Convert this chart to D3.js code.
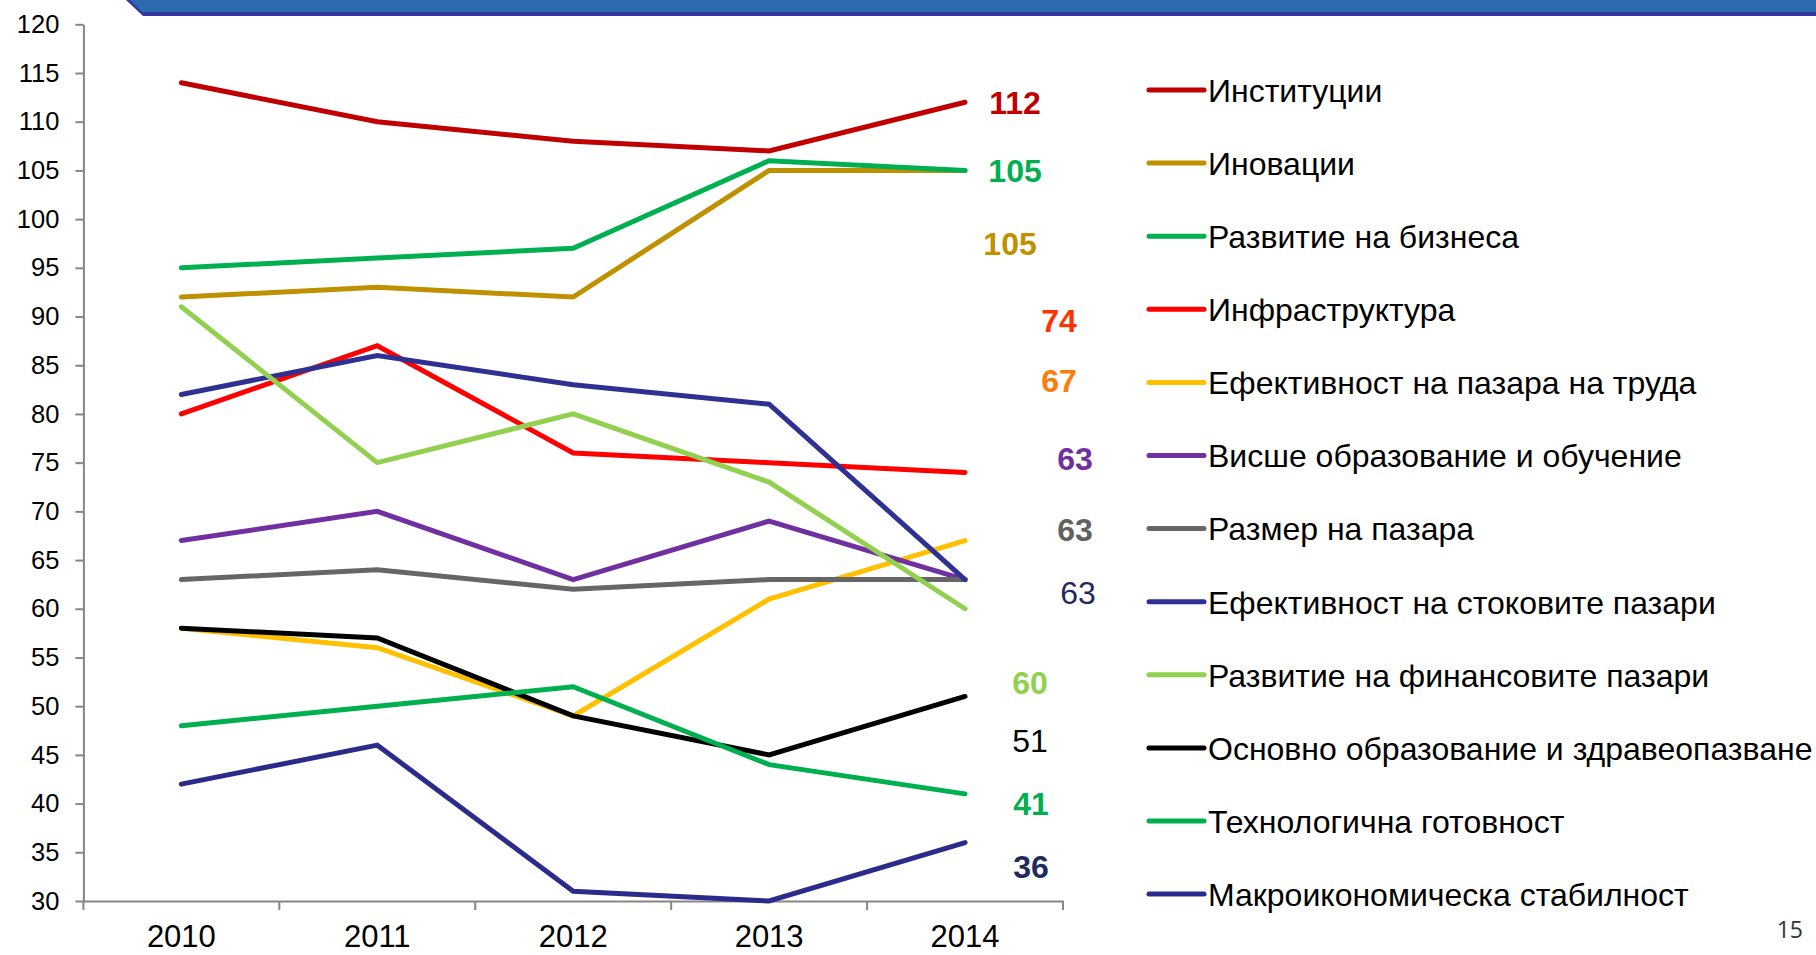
<!DOCTYPE html>
<html>
<head>
<meta charset="utf-8">
<script src="https://cdn.jsdelivr.net/npm/d3@7"></script>
<style>
  html, body { margin: 0; padding: 0; background: #fff; }
  svg { display: block; font-family: "Liberation Sans", Arial, sans-serif; }
</style>
</head>
<body>
<div id="container"></div>
<script>
const years = ["2010", "2011", "2012", "2013", "2014"];
const yTicks = d3.range(30, 121, 5);

const seriesNames = [
    "Институции",
    "Иновации",
    "Развитие на бизнеса",
    "Инфраструктура",
    "Ефективност на пазара на труда",
    "Висше образование и обучение",
    "Размер на пазара",
    "Ефективност на стоковите пазари",
    "Развитие на финансовите пазари",
    "Основно образование и здравеопазване",
    "Технологична готовност",
    "Макроикономическа стабилност"
];

const institutions = [114, 110, 108, 107, 112];
const innovation = [92, 93, 92, 105, 105];
const businessDev = [95, 96, 97, 106, 105];
const infrastructure = [80, 87, 76, 75, 74];
const labourMarket = [58, 56, 49, 61, 67];
const higherEducation = [67, 70, 63, 69, 63];
const marketSize = [63, 64, 62, 63, 63];
const goodsMarket = [82, 86, 83, 81, 63];
const financialMarket = [91, 75, 80, 73, 60];
const primaryEducation = [58, 57, 49, 45, 51];
const techReadiness = [48, 50, 52, 44, 41];
const macroStability = [42, 46, 31, 30, 36];

const seriesValues = [
    institutions, innovation, businessDev, infrastructure, labourMarket, higherEducation,
    marketSize, goodsMarket, financialMarket, primaryEducation, techReadiness, macroStability
];

const seriesColors = [
    "#C00000", "#BF9000", "#00B050", "#FF0000", "#FFC000", "#7030A0",
    "#666666", "#2E3192", "#92D050", "#000000", "#00B050", "#2B2B8C"
];

// rank labels printed to the right of the 2014 points
const labelText = ["112", "105", "105", "74", "67", "63", "63", "63", "60", "51", "41", "36"];
const labelColors = ["#C00000", "#00B050", "#BF9000", "#FF3300", "#FA7D0C", "#7030A0",
    "#616161", "#1F2A5C", "#92D050", "#000000", "#00B050", "#1F2A5C"];
const labelBold = [true, true, true, true, true, true, true, false, true, false, true, true];
// annotation layout: vertical anchor in value units, horizontal offset from the 2014 point
const labelAt = [112, 105, 97.5, 89.6, 83.4, 75.4, 68.1, 61.7, 52.4, 46.5, 40.0, 33.5];
const labelDx = [50, 50, 45, 94, 94, 110, 110, 113, 65, 65, 66, 66];

const W = 1816, H = 955;
const PLOT = { left: 83.4, right: 1063, top: 24.3, bottom: 901 };
const AXIS_COLOR = "#868686";
const LEGEND = { x1: 1149, x2: 1204, textX: 1208, top: 90, step: 73.1 };

const svg = d3.select("#container").append("svg")
    .attr("width", W).attr("height", H)
    .attr("viewBox", [0, 0, W, H]);

// slide header band
svg.append("polygon")
    .attr("points", "126,0 1816,0 1816,16 143,16")
    .attr("fill", "#3535A0");
svg.append("polygon")
    .attr("points", "130,0 1816,0 1816,12 142,12")
    .attr("fill", "#2E6AAE");

const x = d3.scaleBand().domain(years).range([PLOT.left, PLOT.right]);
const xc = d => x(d) + x.bandwidth() / 2;
const y = d3.scaleLinear().domain([30, 120]).range([PLOT.bottom, PLOT.top]);

// y axis
const yAxis = svg.append("g")
    .attr("transform", `translate(${PLOT.left},0)`)
    .call(d3.axisLeft(y).tickValues(yTicks).tickSize(8).tickSizeOuter(0).tickPadding(16));
yAxis.select(".domain").attr("stroke", AXIS_COLOR).attr("stroke-width", 2);
yAxis.selectAll(".tick line").attr("stroke", AXIS_COLOR).attr("stroke-width", 2);
yAxis.selectAll(".tick text")
    .attr("font-size", 25.5).attr("fill", "#000")
    .attr("font-family", "Liberation Sans, Arial, sans-serif");

// x axis
const xAxis = svg.append("g")
    .attr("transform", `translate(0,${PLOT.bottom})`)
    .call(d3.axisBottom(x).tickSize(0).tickSizeOuter(0));
xAxis.select(".domain").attr("stroke", AXIS_COLOR).attr("stroke-width", 2);
xAxis.selectAll(".tick text")
    .attr("y", 46).attr("dy", 0)
    .attr("font-size", 31).attr("fill", "#000")
    .attr("font-family", "Liberation Sans, Arial, sans-serif");

const boundaries = years.map(d => x(d)).concat(x.range()[1]);
xAxis.selectAll("line.bound").data(boundaries).join("line")
    .attr("class", "bound")
    .attr("x1", d => d).attr("x2", d => d)
    .attr("y1", 0).attr("y2", 9)
    .attr("stroke", AXIS_COLOR).attr("stroke-width", 2);

// series lines
const line = d3.line().x((d, i) => xc(years[i])).y(d => y(d));

svg.append("g")
    .selectAll("path").data(seriesValues).join("path")
    .attr("d", d => line(d))
    .attr("fill", "none")
    .attr("stroke", (d, i) => seriesColors[i])
    .attr("stroke-width", 5)
    .attr("stroke-linecap", "round")
    .attr("stroke-linejoin", "miter");

// rank labels
const lastX = xc(years[years.length - 1]);
svg.append("g")
    .selectAll("text").data(labelText).join("text")
    .attr("x", (d, i) => lastX + labelDx[i])
    .attr("y", (d, i) => y(labelAt[i]))
    .attr("dy", "0.36em")
    .attr("text-anchor", "middle")
    .attr("font-size", 32)
    .attr("font-weight", (d, i) => labelBold[i] ? "bold" : "normal")
    .attr("fill", (d, i) => labelColors[i])
    .text(d => d);

// legend
const legend = svg.append("g")
    .selectAll("g").data(seriesNames).join("g")
    .attr("transform", (d, i) => `translate(0,${LEGEND.top + i * LEGEND.step})`);

legend.append("line")
    .attr("x1", LEGEND.x1).attr("x2", LEGEND.x2)
    .attr("stroke", (d, i) => seriesColors[i])
    .attr("stroke-width", 5)
    .attr("stroke-linecap", "round");

legend.append("text")
    .attr("x", LEGEND.textX)
    .attr("dy", "0.37em")
    .attr("font-size", 32)
    .attr("fill", "#000")
    .text(d => d);

// slide number
svg.append("text")
    .attr("x", 1803).attr("y", 938)
    .attr("text-anchor", "end")
    .attr("font-family", "Open Sans, DejaVu Sans, sans-serif")
    .attr("font-size", 23)
    .attr("fill", "#333")
    .text("15");
</script>
</body>
</html>
